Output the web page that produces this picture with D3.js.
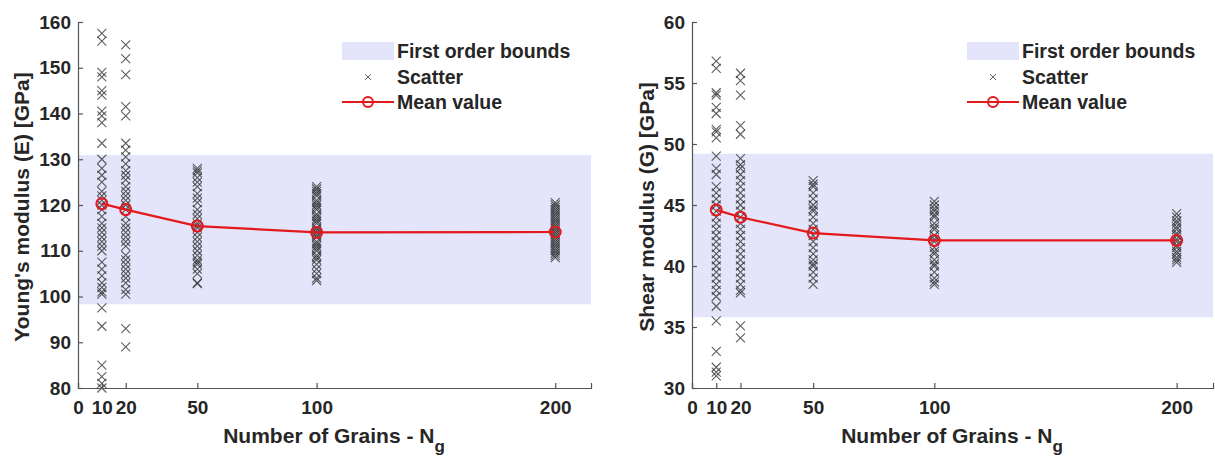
<!DOCTYPE html>
<html>
<head>
<meta charset="utf-8">
<script src="https://cdn.jsdelivr.net/npm/d3@7"></script>
<style>
  body { margin: 0; background: #fff; }
  text { font-family: "Liberation Sans", Arial, sans-serif; font-weight: bold; fill: #262626; }
</style>
</head>
<body>
<svg id="chart" width="1215" height="458"></svg>
<script>
// grain counts and tick labels
const grains = [10, 20, 50, 100, 200];
const xTicks = [0, 10, 20, 50, 100, 200];

// Young's modulus (E) samples, one list per grain count
const eScatter10 = [157.5, 155.8, 149, 148, 145, 144, 140.5, 139.5, 138, 133.5, 130, 128, 126.5, 125, 123, 122, 121, 120, 119, 117.5, 116, 115, 114, 113, 112, 111, 110, 107.5, 106, 104.5, 103, 102, 101, 100.5, 97.5, 93.5, 85, 82.5, 81, 80];
const eScatter20 = [155, 152, 148.5, 141.5, 139.5, 133.5, 132, 130.5, 129, 127.5, 126.5, 125.5, 124, 123, 122, 121, 120, 119, 117.5, 116, 115, 114, 113, 112, 111, 109, 108, 107, 106, 105, 104, 103, 101.5, 100.5, 93, 89];
const eScatter50 = [128, 127.5, 127, 126, 125, 124, 122.5, 121.5, 120.5, 119, 118, 117, 116, 115.5, 115, 114, 113, 112, 111, 110, 109, 108, 107.5, 107, 106, 105, 103, 102.8];
const eScatter100 = [124, 123.5, 123, 122.5, 122, 121, 120.5, 120, 119.5, 119, 118, 117.5, 117, 116.5, 116, 115, 114.5, 114, 113.5, 113, 112, 111.5, 111, 110.5, 110, 109, 108.5, 108, 107, 106, 105, 104, 103.5];
const eScatter200 = [120.5, 120, 119.5, 119, 118.5, 118, 117.5, 117, 116.5, 116, 115.5, 115, 114.5, 114, 113.5, 113, 112.5, 112, 111.5, 111, 110.5, 110, 109.5, 109, 108.5];
const eMean = [120.3, 119.0, 115.4, 114.0, 114.1];
const eBounds = [98.3, 130.9];
const eTicks = [80, 90, 100, 110, 120, 130, 140, 150, 160];

// Shear modulus (G) samples
const gScatter10 = [56.8, 56.2, 54.2, 54, 53, 52.5, 51.2, 51, 50.5, 49, 48, 47.5, 46.5, 46, 45.5, 45, 44.5, 44, 43.5, 43, 42.5, 42, 41.5, 41, 40.5, 40, 39.5, 39, 38.5, 38, 37.5, 36.7, 35.5, 33, 31.7, 31.3, 31];
const gScatter20 = [55.8, 55.2, 54, 51.5, 50.8, 48.8, 48.3, 48, 47.5, 47, 46.5, 46, 45.5, 45, 44.5, 44, 43.5, 43, 42.5, 42, 41.5, 41, 40.5, 40, 39.5, 39, 38.5, 38, 37.8, 35.1, 34.1];
const gScatter50 = [47, 46.7, 46.5, 46, 45.5, 45, 44.7, 44.5, 44, 43.5, 43, 42.5, 42, 41.5, 41, 40.5, 40.2, 40, 39.5, 39, 38.5];
const gScatter100 = [45.3, 45, 44.7, 44.5, 44.2, 44, 43.5, 43.2, 43, 42.5, 42.2, 42, 41.5, 41.2, 41, 40.5, 40.2, 40, 39.5, 39, 38.7, 38.5];
const gScatter200 = [44.3, 44, 43.7, 43.5, 43.2, 43, 42.7, 42.5, 42.2, 42, 41.7, 41.5, 41.2, 41, 40.7, 40.5, 40.3];
const gMean = [44.6, 44.0, 42.7, 42.1, 42.1];
const gBounds = [35.8, 49.2];
const gTicks = [30, 35, 40, 45, 50, 55, 60];

const legendLabels = ["First order bounds", "Scatter", "Mean value"];

const svg = d3.select("#chart");
const bandColor = "#e4e4fa";
const red = "#e3191c";
const xPath = s => `M${-s},${-s}L${s},${s}M${-s},${s}L${s},${-s}`;

function drawPanel(p) {
    const x = d3.scaleLinear().domain([0, 215]).range([p.left, p.right]);
    const y = d3.scaleLinear().domain(p.yDomain).range([388, 22]);
    const g = svg.append("g");

    // bounds band
    g.append("rect")
        .attr("x", x(0)).attr("width", x(215) - x(0))
        .attr("y", y(p.bounds[1])).attr("height", y(p.bounds[0]) - y(p.bounds[1]))
        .attr("fill", bandColor);

    // scatter crosses
    const pts = [];
    p.scatter.forEach((vals, i) => vals.forEach(v => pts.push({ n: grains[i], v })));
    g.append("g").selectAll("path")
        .data(pts)
        .enter().append("path")
        .attr("d", xPath(4.5))
        .attr("transform", d => `translate(${x(d.n)},${y(d.v)})`)
        .attr("stroke", "#2a2a2a")
        .attr("stroke-opacity", 0.75)
        .attr("stroke-width", 1.1)
        .attr("fill", "none");

    // mean line
    const line = d3.line().x((d, i) => x(grains[i])).y(d => y(d));
    g.append("path")
        .datum(p.mean)
        .attr("d", line)
        .attr("fill", "none")
        .attr("stroke", red)
        .attr("stroke-width", 2.2);
    g.append("g").selectAll("circle")
        .data(p.mean)
        .enter().append("circle")
        .attr("cx", (d, i) => x(grains[i]))
        .attr("cy", d => y(d))
        .attr("r", 5.5)
        .attr("fill", "none")
        .attr("stroke", red)
        .attr("stroke-width", 2);

    // axes, ticks pointing inward like matlab
    const xAxis = g.append("g")
        .attr("transform", `translate(0,${y(p.yDomain[0])})`)
        .call(d3.axisBottom(x).tickValues(xTicks).tickSizeInner(-5).tickSizeOuter(-5).tickPadding(9));
    const yAxis = g.append("g")
        .attr("transform", `translate(${x(0)},0)`)
        .call(d3.axisLeft(y).tickValues(p.yTicks).tickSizeInner(-5).tickSizeOuter(-5).tickPadding(7));
    [xAxis, yAxis].forEach(a => {
        a.selectAll("path, line").attr("stroke", "#555").attr("stroke-width", 1.2);
        a.selectAll("text").style("font-size", "19px").attr("fill", "#262626");
    });
    xAxis.selectAll("text").attr("dy", "0.9em");

    // axis titles
    g.append("text")
        .attr("transform", `translate(${p.yLabelX},207) rotate(-90)`)
        .attr("text-anchor", "middle")
        .style("font-size", "21px")
        .text(p.yLabel);
    const xl = g.append("text")
        .attr("x", p.xLabelX).attr("y", 443)
        .attr("text-anchor", "middle")
        .style("font-size", "21px");
    xl.append("tspan").text("Number of Grains - N");
    xl.append("tspan").attr("dy", 9).style("font-size", "17px").text("g");

    // legend
    const lx = p.legendX;
    const lg = g.append("g");
    lg.append("rect").attr("x", lx).attr("y", 42).attr("width", 52).attr("height", 18).attr("fill", bandColor);
    lg.append("path").attr("d", xPath(3)).attr("transform", `translate(${lx + 26},77)`)
        .attr("stroke", "#555").attr("stroke-width", 0.9).attr("fill", "none");
    lg.append("line").attr("x1", lx).attr("x2", lx + 52).attr("y1", 102).attr("y2", 102)
        .attr("stroke", red).attr("stroke-width", 2.2);
    lg.append("circle").attr("cx", lx + 26).attr("cy", 102).attr("r", 5)
        .attr("fill", "none").attr("stroke", red).attr("stroke-width", 2);
    lg.selectAll("text.leg")
        .data(legendLabels)
        .enter().append("text")
        .attr("class", "leg")
        .attr("x", lx + 55)
        .attr("y", (d, i) => [51, 77, 102][i])
        .attr("dy", "0.36em")
        .style("font-size", "19.5px")
        .text(d => d);
}

drawPanel({
    left: 78, right: 591,
    yDomain: [80, 160], yTicks: eTicks,
    scatter: [eScatter10, eScatter20, eScatter50, eScatter100, eScatter200],
    mean: eMean, bounds: eBounds,
    yLabel: "Young's modulus (E) [GPa]", yLabelX: 29,
    xLabelX: 334, legendX: 342
});

drawPanel({
    left: 692, right: 1213,
    yDomain: [30, 60], yTicks: gTicks,
    scatter: [gScatter10, gScatter20, gScatter50, gScatter100, gScatter200],
    mean: gMean, bounds: gBounds,
    yLabel: "Shear modulus (G) [GPa]", yLabelX: 654,
    xLabelX: 952, legendX: 967
});
</script>
</body>
</html>
